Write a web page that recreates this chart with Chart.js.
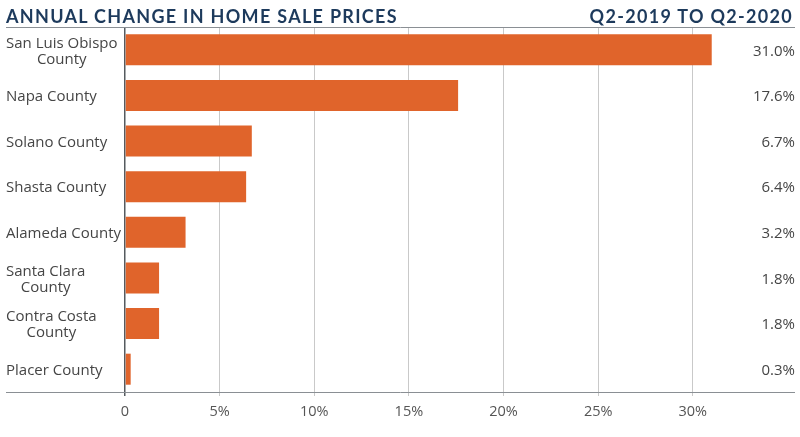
<!DOCTYPE html>
<html>
<head>
<meta charset="utf-8">
<script src="https://cdn.jsdelivr.net/npm/chart.js@4"></script>
<style>
    html, body { margin: 0; padding: 0; background: #fff; }
    #wrap { position: relative; width: 800px; height: 437px; }
    .title { position: absolute; top: 5px; font-family: Lato, sans-serif; font-weight: bold;
             font-size: 18px; letter-spacing: 1.3px; color: #1d3a5c; }
    #titleLeft { left: 6px; }
    #titleRight { right: 7px; }
</style>
</head>
<body>
<div id="wrap">
    <div class="title" id="titleLeft">ANNUAL CHANGE IN HOME SALE PRICES</div>
    <div class="title" id="titleRight">Q2-2019 TO Q2-2020</div>
    <canvas id="priceChart" width="800" height="437"></canvas>
</div>
<script>
const counties = [
    ['San Luis Obispo', 'County'],
    ['Napa County'],
    ['Solano County'],
    ['Shasta County'],
    ['Alameda County'],
    ['Santa Clara', 'County'],
    ['Contra Costa', 'County'],
    ['Placer County']
];
const priceChange = [31.0, 17.6, 6.7, 6.4, 3.2, 1.8, 1.8, 0.3];
const tickValues = [0, 5, 10, 15, 20, 25, 30];

const labelFont = '15px "Open Sans", sans-serif';

// draws county names, value column and the long horizontal rules
const sidePlugin = {
    id: 'sideText',
    afterDraw(chart) {
        const ctx = chart.ctx;
        const area = chart.chartArea;
        const yScale = chart.scales.y;
        ctx.save();

        ctx.strokeStyle = '#8a8f94';
        ctx.lineWidth = 1;
        ctx.beginPath();
        ctx.moveTo(6, area.top + 0.5);
        ctx.lineTo(795, area.top + 0.5);
        ctx.moveTo(6, area.bottom + 0.5);
        ctx.lineTo(795, area.bottom + 0.5);
        ctx.stroke();

        ctx.font = labelFont;
        ctx.fillStyle = '#454545';
        ctx.textBaseline = 'middle';
        counties.forEach((lines, i) => {
            const cy = yScale.getPixelForValue(i) + 1.5;
            const widest = Math.max(...lines.map(l => ctx.measureText(l).width));
            const lineH = 16;
            lines.forEach((line, j) => {
                const w = ctx.measureText(line).width;
                const y = cy + (j - (lines.length - 1) / 2) * lineH;
                ctx.textAlign = 'left';
                ctx.fillText(line, 6 + (widest - w) / 2, y);
            });
            ctx.textAlign = 'right';
            ctx.fillText(priceChange[i].toFixed(1) + '%', 795, cy);
        });
        ctx.restore();
    }
};

const ctx = document.getElementById('priceChart').getContext('2d');
const priceChart = new Chart(ctx, {
    type: 'bar',
    data: {
        labels: counties,
        datasets: [{
            data: priceChange,
            backgroundColor: '#e0642b',
            borderWidth: 0,
            categoryPercentage: 0.68,
            barPercentage: 1.0
        }]
    },
    options: {
        indexAxis: 'y',
        responsive: false,
        animation: false,
        layout: {
            padding: { left: 125, right: 5, top: 27, bottom: 0 }
        },
        plugins: {
            legend: { display: false },
            tooltip: { enabled: false }
        },
        scales: {
            x: {
                min: 0,
                max: 35.4,
                afterBuildTicks: (scale) => {
                    scale.ticks = tickValues.map(v => ({ value: v }));
                },
                afterFit: (scale) => { scale.height = 45; },
                border: { display: false },
                grid: {
                    color: (c) => c.tick && c.tick.value === 0 ? '#555a5f' : '#c9c9c9',
                    lineWidth: (c) => c.tick && c.tick.value === 0 ? 1.5 : 1,
                    tickLength: 4,
                    drawTicks: true
                },
                ticks: {
                    color: '#555',
                    padding: 7,
                    font: { family: '"Open Sans", sans-serif', size: 14.5 },
                    callback: (v) => v === 0 ? '0' : v + '%'
                }
            },
            y: {
                display: false
            }
        }
    },
    plugins: [sidePlugin]
});
</script>
</body>
</html>
